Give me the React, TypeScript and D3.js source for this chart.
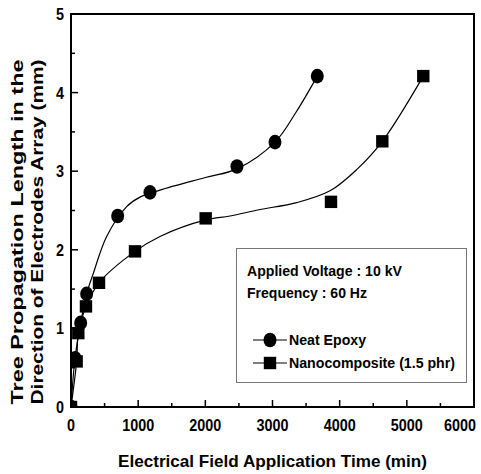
import React from 'react';
import * as d3 from 'd3';

// measured values (time in min, length in mm)
const neatTime = [0, 60, 144, 233, 695, 1176, 2471, 3037, 3667];
const neatLength = [0, 0.62, 1.07, 1.44, 2.43, 2.73, 3.06, 3.37, 4.21];
const nanoTime = [0, 84, 109, 223, 417, 953, 2005, 3871, 4635, 5245];
const nanoLength = [0, 0.58, 0.94, 1.28, 1.58, 1.98, 2.4, 2.61, 3.38, 4.21];

// fitted curves
const neatFit = [
  [0, 0], [60, 0.62], [144, 1.07], [233, 1.44], [332, 1.7], [531, 2.17], [829, 2.55],
  [1027, 2.67], [1325, 2.76], [2000, 2.92], [2471, 3.03], [3037, 3.37], [3350, 3.75], [3667, 4.21]
];
const nanoFit = [
  [0, 0], [84, 0.58], [109, 0.94], [223, 1.28], [417, 1.58], [953, 1.98], [1325, 2.17],
  [2005, 2.38], [2367, 2.43], [2800, 2.51], [3360, 2.6], [3856, 2.75], [4253, 3.02], [4635, 3.38], [5245, 4.21]
];

const xTicks = [0, 1000, 2000, 3000, 4000, 5000, 6000];
const xMinor = [500, 1500, 2500, 3500, 4500, 5500];
const yTicks = [0, 1, 2, 3, 4, 5];
const yMinor = [0.5, 1.5, 2.5, 3.5, 4.5];

const infoLines = ['Applied Voltage : 10 kV', 'Frequency : 60 Hz'];
const seriesNames = ['Neat Epoxy', 'Nanocomposite (1.5 phr)'];

const W = 481;
const H = 474;
const margin = { top: 14, right: 7, bottom: 67, left: 71 };
const font = '"Liberation Sans", Arial, sans-serif';
const digitW = 8; // condensed digits in the original

export default function App() {
  const x = d3.scaleLinear().domain([0, 6000]).range([margin.left, W - margin.right]);
  const y = d3.scaleLinear().domain([0, 5]).range([H - margin.bottom, margin.top]);

  const line = d3.line<number[]>()
    .x((d) => x(d[0]))
    .y((d) => y(d[1]))
    .curve(d3.curveCatmullRom.alpha(0.5));

  const x0 = x(0);
  const x1 = x(6000);
  const y0 = y(0);
  const y1 = y(5);

  const circle = (cx: number, cy: number, k: string) => (
    <ellipse key={k} cx={cx} cy={cy} rx={6.5} ry={7.3} fill="#000" />
  );
  const square = (cx: number, cy: number, k: string) => (
    <rect key={k} x={cx - 6.2} y={cy - 6.2} width={12.4} height={12.4} fill="#000" />
  );

  return (
    <svg width={W} height={H} style={{ position: 'absolute', left: 0, top: 0, background: '#fff' }}>
      <defs>
        <clipPath id="plot">
          <rect x={x0} y={y1} width={x1 - x0} height={y0 - y1} />
        </clipPath>
      </defs>

      {/* curves and markers */}
      <g clipPath="url(#plot)">
        <path d={line(neatFit) || ''} fill="none" stroke="#000" strokeWidth={1.2} />
        <path d={line(nanoFit) || ''} fill="none" stroke="#000" strokeWidth={1.2} />
        {nanoTime.map((t, i) => square(x(t), y(nanoLength[i]), 'n' + i))}
        {neatTime.map((t, i) => circle(x(t), y(neatLength[i]), 'e' + i))}
      </g>

      {/* frame */}
      <rect x={x0} y={y1} width={x1 - x0} height={y0 - y1} fill="none" stroke="#000" strokeWidth={2} />

      {/* x ticks */}
      {xTicks.map((t) => {
        const w = String(t).length * digitW;
        const cx = Math.min(x(t), W - 5 - w / 2);
        return (
          <g key={'xt' + t}>
            <line x1={x(t)} x2={x(t)} y1={y0} y2={y0 - 7} stroke="#000" strokeWidth={1.5} />
            <text x={cx - w / 2} y={431} fontFamily={font} fontWeight="bold" fontSize={17}
              textLength={w} lengthAdjust="spacingAndGlyphs">{t}</text>
          </g>
        );
      })}
      {xMinor.map((t) => (
        <line key={'xm' + t} x1={x(t)} x2={x(t)} y1={y0} y2={y0 - 4} stroke="#000" strokeWidth={1.5} />
      ))}

      {/* y ticks */}
      {yTicks.map((t) => (
        <g key={'yt' + t}>
          <line x1={x0} x2={x0 + 7} y1={y(t)} y2={y(t)} stroke="#000" strokeWidth={1.5} />
          <text x={64 - digitW} y={y(t) + 6} fontFamily={font} fontWeight="bold" fontSize={17}
            textLength={digitW} lengthAdjust="spacingAndGlyphs">{t}</text>
        </g>
      ))}
      {yMinor.map((t) => (
        <line key={'ym' + t} x1={x0} x2={x0 + 4} y1={y(t)} y2={y(t)} stroke="#000" strokeWidth={1.5} />
      ))}

      {/* axis titles */}
      <text x={118} y={467} fontFamily={font} fontWeight="bold" fontSize={17}
        textLength={309} lengthAdjust="spacingAndGlyphs">Electrical Field Application Time (min)</text>
      <g transform="translate(23,232) rotate(-90)">
        <text x={0} y={0} textAnchor="middle" fontFamily={font} fontWeight="bold" fontSize={17}
          textLength={345} lengthAdjust="spacingAndGlyphs">Tree Propagation Length in the</text>
        <text x={0} y={20} textAnchor="middle" fontFamily={font} fontWeight="bold" fontSize={17}
          textLength={345} lengthAdjust="spacingAndGlyphs">Direction of Electrodes Array (mm)</text>
      </g>

      {/* legend box */}
      <rect x={236.5} y={248.5} width={230} height={134} fill="#fff" stroke="#777" strokeWidth={1} />
      {infoLines.map((s, i) => (
        <text key={s} x={247} y={276 + i * 22} fontFamily={font} fontWeight="bold" fontSize={15}
          textLength={i === 0 ? 155 : 120} lengthAdjust="spacingAndGlyphs">{s}</text>
      ))}
      {seriesNames.map((s, i) => {
        const ly = 340 + i * 23;
        return (
          <g key={s}>
            <line x1={253} x2={287} y1={ly} y2={ly} stroke="#000" strokeWidth={1.2} />
            {i === 0 ? circle(270, ly, 'lc') : square(270, ly, 'ls')}
            <text x={289} y={ly + 5} fontFamily={font} fontWeight="bold" fontSize={15}
              textLength={i === 0 ? 77 : 166} lengthAdjust="spacingAndGlyphs">{s}</text>
          </g>
        );
      })}
    </svg>
  );
}
